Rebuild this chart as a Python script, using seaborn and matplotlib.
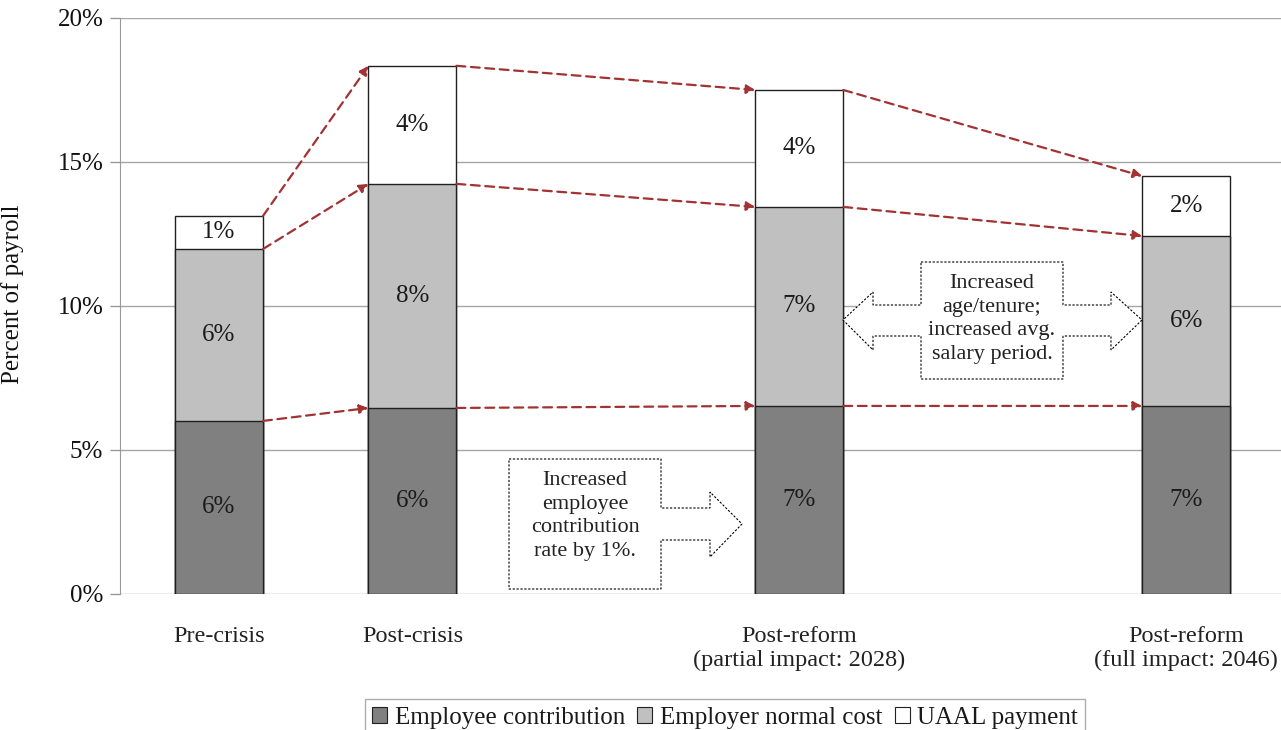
import numpy as np
import pandas as pd
import matplotlib
matplotlib.use('Agg')
import matplotlib.pyplot as plt
import seaborn as sns
from matplotlib.patches import Patch, Polygon

# data (percent of payroll)
stages = ['Pre-crisis', 'Post-crisis', 'Post-reform\n(partial impact: 2028)', 'Post-reform\n(full impact: 2046)']
slots = [0, 1, 3, 5]
employee = [6.01, 6.46, 6.53, 6.53]
employer = [5.97, 7.78, 6.91, 5.90]
uaal = [1.15, 4.10, 4.06, 2.08]
series_names = ['Employee contribution', 'Employer normal cost', 'UAAL payment']
colors = ['#808080', '#C0C0C0', '#FFFFFF']

df = pd.DataFrame({'slot': slots, 'employee': employee, 'employer': employer, 'uaal': uaal})
df['lvl1'] = df['employee']
df['lvl2'] = df['employee'] + df['employer']
df['lvl3'] = df['lvl2'] + df['uaal']

sns.set_style('white')
plt.rcParams['font.family'] = ['Liberation Serif', 'DejaVu Serif']
plt.rcParams['text.color'] = '#1a1a1a'

fig = plt.figure(figsize=(12.81, 7.30), dpi=100)
ax = fig.add_axes([120 / 1281, 136 / 730, 1161 / 1281, 576 / 730])

bar_w = 0.455
# stacked bars: draw totals first, then overdraw the lower layers
for col, c in zip(['lvl3', 'lvl2', 'lvl1'], colors[::-1]):
    sns.barplot(data=df, x='slot', y=col, native_scale=True, width=bar_w,
                color=c, edgecolor='#202020', linewidth=1.0, saturation=1, ax=ax, zorder=3)

# segment labels
for _, r in df.iterrows():
    ax.text(r['slot'], r['employee'] / 2, f"{r['employee']:.0f}%", ha='center', va='center', fontsize=18, zorder=5)
    ax.text(r['slot'], r['employee'] + r['employer'] / 2, f"{r['employer']:.0f}%", ha='center', va='center', fontsize=18, zorder=5)
    ax.text(r['slot'], r['lvl2'] + r['uaal'] / 2, f"{r['uaal']:.0f}%", ha='center', va='center', fontsize=18, zorder=5)

# dashed connector arrows between bars
hw = bar_w / 2
for i in range(len(df) - 1):
    a, b = df.iloc[i], df.iloc[i + 1]
    for col in ['lvl1', 'lvl2', 'lvl3']:
        ax.annotate('', xy=(b['slot'] - hw, b[col]), xytext=(a['slot'] + hw, a[col]),
                    arrowprops=dict(arrowstyle='-|>', color='#A33232', lw=1.6, linestyle=(0, (4, 2.5)),
                                    mutation_scale=13, shrinkA=0, shrinkB=0), zorder=4)

# block-arrow callouts (pixel coordinates of the figure)
def px_poly(pts):
    return [(x / 1281, 1 - y / 730) for x, y in pts]

right_arrow = [(509, 459), (661, 459), (661, 508), (710, 508), (710, 492), (742, 524), (710, 557),
               (710, 540), (661, 540), (661, 589), (509, 589)]
double_arrow = [(921, 262), (1063, 262), (1063, 305), (1111, 305), (1111, 292), (1142, 320), (1111, 350),
                (1111, 336), (1063, 336), (1063, 379), (921, 379), (921, 336), (873, 336), (873, 350),
                (843, 320), (873, 292), (873, 305), (921, 305)]
for pts in [right_arrow, double_arrow]:
    fig.patches.append(Polygon(px_poly(pts), closed=True, transform=fig.transFigure, facecolor='white',
                               edgecolor='black', lw=0.8, linestyle=(0, (2, 1.5)), zorder=6))
fig.text(585 / 1281, 1 - 516 / 730, 'Increased\nemployee\ncontribution\nrate by 1%.', ha='center', va='center',
         fontsize=16, linespacing=1.33, color='#222222', zorder=7)
fig.text(992 / 1281, 1 - 319 / 730, 'Increased\nage/tenure;\nincreased avg.\nsalary period.', ha='center', va='center',
         fontsize=16, linespacing=1.33, color='#222222', zorder=7)

# axes styling
ax.set_xlim(-0.512, 5.49)
ax.set_ylim(0, 20)
ax.set_yticks([0, 5, 10, 15, 20])
ax.set_yticklabels([f'{v}%' for v in [0, 5, 10, 15, 20]], fontsize=18, color='#111111')
ax.set_xticks(slots)
ax.set_xticklabels(stages, fontsize=17.5, color='#222222')
ax.tick_params(axis='x', length=0, pad=23)
ax.tick_params(axis='y', length=7, color='#999999', width=1, pad=5, left=True)
ax.grid(axis='y', color='#A6A6A6', lw=1, zorder=0)
ax.set_axisbelow(True)
for s in ['top', 'right', 'bottom']:
    ax.spines[s].set_visible(False)
ax.spines['left'].set_color('#999999')
ax.set_xlabel('')
ax.set_ylabel('Percent of payroll', fontsize=18, color='#111111')
ax.yaxis.set_label_coords(-0.083, 0.52)

handles = [Patch(facecolor=c, edgecolor='#202020', lw=0.8) for c in colors]
leg = fig.legend(handles, series_names, loc='lower center', bbox_to_anchor=(0.566, -0.026), ncol=3,
                 fontsize=18, frameon=True, fancybox=False, handlelength=0.6, handleheight=0.6,
                 handletextpad=0.3, columnspacing=0.5, borderpad=0.3, edgecolor='#999999')
leg.get_frame().set_linewidth(1)

fig.savefig('out.png', dpi=100)
